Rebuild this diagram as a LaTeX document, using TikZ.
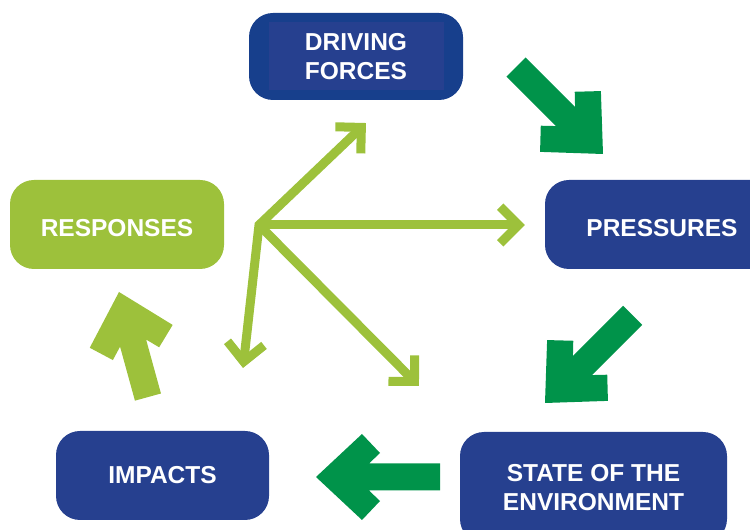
\documentclass[tikz,border=0pt]{standalone}
\usepackage{fontspec}
\setmainfont{Liberation Sans}
\usetikzlibrary{calc}
\definecolor{navy}{HTML}{26408F}
\definecolor{navyout}{HTML}{173F8C}
\definecolor{lgreen}{HTML}{9DC13B}
\definecolor{dgreen}{HTML}{00934A}
\newcommand\fatarrow[4]{% tip, angle, shaft length, colour
  \fill[#4, shift={#1}, rotate=#2] (0,0) -- (-46,43) -- (-64,24) -- (-53,13.5) -- (-#3,13.5)
    -- (-#3,-13.5) -- (-53,-13.5) -- (-64,-24) -- (-46,-43) -- cycle;}
\begin{document}
\begin{tikzpicture}[x=1pt,y=1pt,
  box/.style={rounded corners=24pt, inner sep=0pt, text=white,
    font=\fontsize{24.5}{29.5}\selectfont\bfseries, align=center},
  lowtext/.style={text height=23.5pt, text depth=0pt},
  thinarrow/.style={draw=lgreen, line width=9pt},
  ]
\clip (0,0) rectangle (750,530);
% boxes
\node[box, fill=navyout, minimum width=214pt, minimum height=87pt,
  path picture={\fill[navy, sharp corners] ($(path picture bounding box.center)+(-87.5,-34)$) rectangle +(175,68);}]
  (DF) at (356,473.5) {DRIVING\\FORCES};
\node[box, lowtext, fill=navy, minimum width=234pt, minimum height=89pt] (P) at (662,305.5) {PRESSURES};
\node[box, lowtext, fill=lgreen, minimum width=214pt, minimum height=89pt] (R) at (117,305.5) {RESPONSES};
\node[box, fill=navy, minimum width=213pt, minimum height=89pt] (I) at (162.5,54.5) {IMPACTS};
\node[box, fill=navy, minimum width=267pt, minimum height=111pt] (S) at (593.5,42.5) {STATE OF THE\\ENVIRONMENT};
% thick arrows
\coordinate (a1) at (603,376);
\coordinate (a2) at (545,127);
\coordinate (a3) at (316,53);
\coordinate (a4) at (119,238);
\fatarrow{(a1)}{-45}{123}{dgreen}
\fatarrow{(a2)}{-135}{124}{dgreen}
\fatarrow{(a3)}{180}{124}{dgreen}
\fatarrow{(a4)}{105.4}{109}{lgreen}
% thin arrows
\coordinate (o) at (259,305);
\coordinate (tDF) at (366,407);
\coordinate (tP) at (525,305);
\coordinate (tI) at (243,162);
\coordinate (tS) at (419,144);
\foreach \t in {DF,P,I,S}{
  \coordinate (c\t) at ($(t\t)!6.4pt!(o)$);
}
\draw[thinarrow, line join=miter] (cDF) -- (o) -- (cI);
\draw[thinarrow] (o) -- (cP);
\draw[thinarrow] (o) -- (cS);
\foreach \t in {DF,P,I,S}{
  \draw[thinarrow, line join=miter] ($(c\t)!26pt!45:(o)$) -- (c\t) -- ($(c\t)!26pt!-45:(o)$);
}
\end{tikzpicture}
\end{document}
